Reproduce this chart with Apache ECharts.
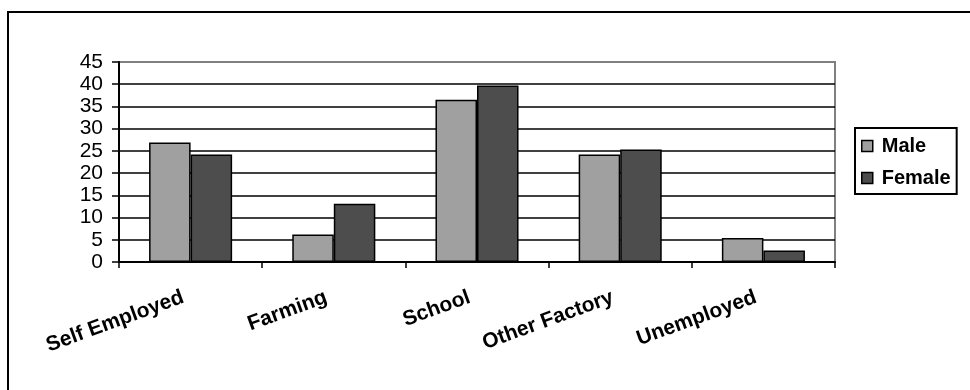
<!DOCTYPE html>
<html>
<head>
<meta charset="utf-8">
<script src="https://cdn.jsdelivr.net/npm/echarts@6/dist/echarts.min.js"></script>
<style>
  html, body { margin: 0; padding: 0; background: #fff; overflow: hidden; }
  #chart { width: 970px; height: 390px; }
</style>
</head>
<body>
<div id="chart"></div>
<script>
// Occupation by sex
const categories = ['Self Employed', 'Farming', 'School', 'Other Factory', 'Unemployed'];
const maleValues = [26.9, 6.2, 36.5, 24.2, 5.4];
const femaleValues = [24.2, 13.1, 39.7, 25.3, 2.6];
const seriesNames = ['Male', 'Female'];
const yTicks = { min: 0, max: 45, interval: 5 };

const FONT = '"Liberation Sans", Arial, sans-serif';

// gridlines black, the top one (45) grey like the plot frame
const splitColors = [];
for (let v = yTicks.min; v <= yTicks.max; v += yTicks.interval) {
  splitColors.push(v === yTicks.max ? '#808080' : '#000000');
}

const chart = echarts.init(document.getElementById('chart'), null, { renderer: 'canvas' });

chart.setOption({
  backgroundColor: '#ffffff',
  animation: false,
  graphic: [{
    type: 'rect',
    shape: { x: 8, y: 12, width: 1200, height: 1200 },
    style: { fill: 'none', stroke: '#000', lineWidth: 2 },
    silent: true,
    z: -1
  }],
  grid: {
    left: 119, right: 135, top: 62, bottom: 128,
    show: true, borderColor: '#808080', borderWidth: 2, backgroundColor: 'transparent'
  },
  legend: {
    data: seriesNames,
    orient: 'vertical',
    left: 855, top: 128,
    padding: [7, 6, 5, 6],
    itemGap: 10,
    itemWidth: 11, itemHeight: 11,
    icon: 'rect',
    borderColor: '#000', borderWidth: 2,
    itemStyle: { borderColor: '#000', borderWidth: 1.5 },
    textStyle: { fontFamily: FONT, fontWeight: 'bold', fontSize: 20, color: '#000', lineHeight: 22, padding: [0, 0, 0, 4] }
  },
  xAxis: {
    type: 'category',
    data: categories,
    axisLine: { lineStyle: { color: '#000', width: 2 } },
    axisTick: { show: true, length: 6, alignWithLabel: false, lineStyle: { color: '#000', width: 1.5 } },
    axisLabel: {
      rotate: 20, margin: 32, interval: 0, padding: [0, 8, 0, 0],
      fontFamily: FONT, fontWeight: 'bold', fontSize: 21, color: '#000'
    },
    splitLine: { show: false }
  },
  yAxis: {
    type: 'value',
    min: yTicks.min, max: yTicks.max, interval: yTicks.interval,
    axisLine: { show: true, lineStyle: { color: '#000', width: 2 } },
    axisTick: { show: true, length: 7, lineStyle: { color: '#000', width: 1.5 } },
    axisLabel: { margin: 16, fontFamily: FONT, fontSize: 21, color: '#000' },
    splitLine: { show: true, lineStyle: { color: splitColors, width: 1.5 } }
  },
  series: [
    {
      name: seriesNames[0], type: 'bar', data: maleValues,
      barGap: '0%', barCategoryGap: '42%',
      itemStyle: { color: '#a0a0a0', borderColor: '#000', borderWidth: 1.5 }
    },
    {
      name: seriesNames[1], type: 'bar', data: femaleValues,
      barGap: '0%', barCategoryGap: '42%',
      itemStyle: { color: '#4d4d4d', borderColor: '#000', borderWidth: 1.5 }
    }
  ]
});
</script>
</body>
</html>
